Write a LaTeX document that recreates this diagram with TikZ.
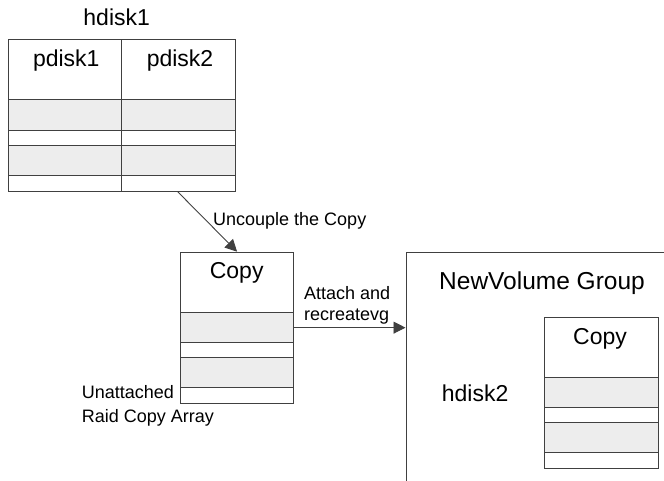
\documentclass[tikz,border=0pt]{standalone}
\usepackage{fontspec}
\setmainfont{Liberation Sans}
\usetikzlibrary{arrows.meta,calc}
\begin{document}
\begin{tikzpicture}[x=1pt,y=-1pt,
  edge/.style={draw=black!75,line width=0.9pt},
  box/.style={edge,rectangle,inner sep=0pt,anchor=north west},
  row/.style={fill=black!7},
  big/.style={font=\fontsize{23}{27}\selectfont,inner sep=0pt},
  bigger/.style={font=\fontsize{24.5}{28}\selectfont,inner sep=0pt},
  small/.style={font=\fontsize{18}{21}\selectfont,inner sep=0pt},
  arr/.style={edge,-{Triangle[length=12pt,width=12pt]}}]
\useasboundingbox (0,0) rectangle (664,481);
\clip (0,0) rectangle (664,481);
% hdisk1 box
\fill[row] (8,99.3) rectangle (235,130);
\fill[row] (8,145) rectangle (235,175.7);
\node[box,minimum width=227pt,minimum height=151.2pt] (hd) at (8,39.5) {};
\draw[edge] (121.7,39.5) -- (121.7,190.7);
\foreach \yy in {99.3,130,145,175.7} \draw[edge] (8,\yy) -- (235,\yy);
\node[big,anchor=base] (hdlab) at (116.7,26) {hdisk1};
\node[big,anchor=base] (p1) at (66.3,67) {pdisk1};
\node[big,anchor=base] (p2) at (180,67) {pdisk2};
% middle copy box
\fill[row] (180,312.3) rectangle (293.3,342.3);
\fill[row] (180,357.3) rectangle (293.3,387.3);
\node[box,minimum width=113.3pt,minimum height=151pt] (cp) at (180,251.7) {};
\foreach \yy in {312.3,342.3,357.3,387.3} \draw[edge] (180,\yy) -- (293.3,\yy);
\node[big,anchor=base] (cplab) at (236.7,278.3) {Copy};
\node[small,anchor=base west] (un) at (81.7,398.3) {Unattached};
\node[small,anchor=base west] (rca) at (81.7,422.7) {Raid Copy Array};
% new volume group
\node[box,minimum width=300pt,minimum height=260pt] (nvg) at (405.5,252) {};
\node[bigger,anchor=base west] (nvglab) at (439,289.3) {NewVolume Group};
\node[big,anchor=base west] (hd2) at (441.7,401.7) {hdisk2};
\fill[row] (544.3,377.3) rectangle (657.7,407.7);
\fill[row] (544.3,422.7) rectangle (657.7,452.7);
\node[box,minimum width=113.4pt,minimum height=151pt] (cp2) at (544.3,317.3) {};
\foreach \yy in {377.3,407.7,422.7,452.7} \draw[edge] (544.3,\yy) -- (657.7,\yy);
\node[big,anchor=base] (cp2lab) at (600,344) {Copy};
% connectors
\draw[arr] ($(hd.south west)!0.744!(hd.south east)$) -- (cp.north);
\node[small,anchor=base west] (uc) at (213,225.7) {Uncouple the Copy};
\draw[arr] (cp.east) -- (cp.east -| nvg.west);
\node[small,anchor=base west] (att) at (304,299) {Attach and};
\node[small,anchor=base west] (rec) at (304,320) {recreatevg};
\end{tikzpicture}
\end{document}
